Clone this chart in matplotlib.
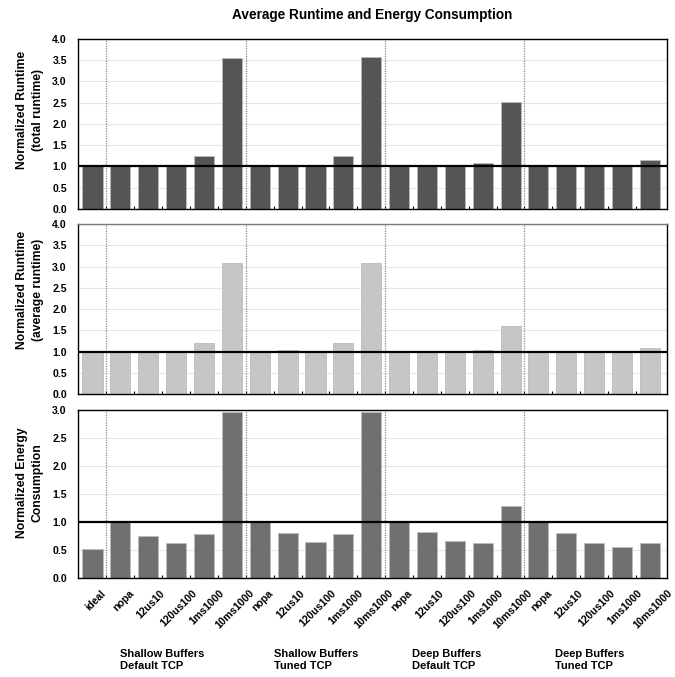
import matplotlib
matplotlib.use("Agg")
import matplotlib.pyplot as plt
import matplotlib.transforms as mtransforms

plt.rcParams['font.family'] = ['Liberation Sans', 'DejaVu Sans']
plt.rcParams['font.weight'] = 'bold'

categories = ["ideal",
              "nopa", "12us10", "120us100", "1ms1000", "10ms1000",
              "nopa", "12us10", "120us100", "1ms1000", "10ms1000",
              "nopa", "12us10", "120us100", "1ms1000", "10ms1000",
              "nopa", "12us10", "120us100", "1ms1000", "10ms1000"]

total_runtime = [1.0,
                 1.0, 1.0, 1.0, 1.25, 3.56,
                 1.0, 1.04, 1.03, 1.25, 3.58,
                 1.0, 1.0, 1.03, 1.09, 2.52,
                 1.0, 1.0, 1.0, 1.03, 1.16]

average_runtime = [1.0,
                   1.0, 1.0, 1.0, 1.19, 3.08,
                   1.0, 1.03, 1.0, 1.19, 3.08,
                   1.0, 1.0, 1.0, 1.03, 1.60,
                   1.0, 1.0, 1.0, 1.0, 1.08]

energy = [0.52,
          1.0, 0.75, 0.62, 0.78, 2.97,
          1.0, 0.80, 0.64, 0.78, 2.97,
          1.0, 0.82, 0.66, 0.63, 1.29,
          1.0, 0.80, 0.63, 0.545, 0.63]

group_labels = ["Shallow Buffers\nDefault TCP", "Shallow Buffers\nTuned TCP",
                "Deep Buffers\nDefault TCP", "Deep Buffers\nTuned TCP"]
group_label_x = [1.0, 6.5, 11.48, 16.58]
separators = [0.5, 5.5, 10.5, 15.5]

panels = [
    (total_runtime, "Normalized Runtime\n(total runtime)", 4.0, "#555555", [0.1156, 0.6913, 0.872, 0.2511], 0.58),
    (average_runtime, "Normalized Runtime\n(average runtime)", 4.0, "#c6c6c6", [0.1156, 0.4180, 0.872, 0.2511], 0.61),
    (energy, "Normalized Energy\nConsumption", 3.0, "#707070", [0.1156, 0.1462, 0.872, 0.2482], 0.57),
]

fig = plt.figure(figsize=(6.75, 6.77), dpi=100)
x = list(range(len(categories)))
axes = []
for vals, ylab, ymax, color, rect, ly in panels:
    ax = fig.add_axes(rect)
    ax.bar(x, vals, width=0.72, color=color, edgecolor="#bbbbbb", linewidth=0.6, zorder=2)
    ax.set_xlim(-0.52, 20.6)
    ax.set_ylim(0, ymax)
    yt = [i * 0.5 for i in range(int(ymax / 0.5) + 1)]
    ax.set_yticks(yt)
    ax.set_yticklabels([f"{v:.1f}" for v in yt], fontsize=7.6, fontweight='bold')
    ax.yaxis.grid(True, color="#e6e6e6", linewidth=0.8, zorder=0)
    ax.set_axisbelow(True)
    ax.tick_params(axis='y', length=0, pad=8)
    ax.axhline(1.0, color='black', linewidth=1.6, zorder=3)
    for s in separators:
        ax.axvline(s, color="#888888", linestyle=(0, (1, 1)), linewidth=0.9, zorder=1)
    ax.set_ylabel(ylab, fontsize=8.7, fontweight='bold', linespacing=1.45)
    ax.yaxis.set_label_coords(-0.058, ly)
    ax.set_xticks([i + 0.5 for i in range(20)])
    ax.tick_params(axis='x', length=2, direction='in', labelbottom=False)
    for sp in ax.spines.values():
        sp.set_color('black')
        sp.set_linewidth(1.0)
    axes.append(ax)

axes[1].spines['top'].set_color('#777777')

ax = axes[2]
xt = ax.get_xaxis_transform()
for i, lab in enumerate(categories):
    ax.text(i + 0.1, -0.06, lab, transform=xt, rotation=45, ha='center', va='top',
            fontsize=7.6, fontweight='bold')

trans = mtransforms.blended_transform_factory(ax.transData, fig.transFigure)
for gx, gl in zip(group_label_x, group_labels):
    fig.text(gx, 0.042, gl, transform=trans, ha='left', va='top',
             fontsize=8, fontweight='bold', linespacing=1.25)

fig.text(0.552, 0.978, "Average Runtime and Energy Consumption", ha='center', va='center',
         fontsize=9.8, fontweight='bold')

fig.savefig("out.png", dpi=100)
